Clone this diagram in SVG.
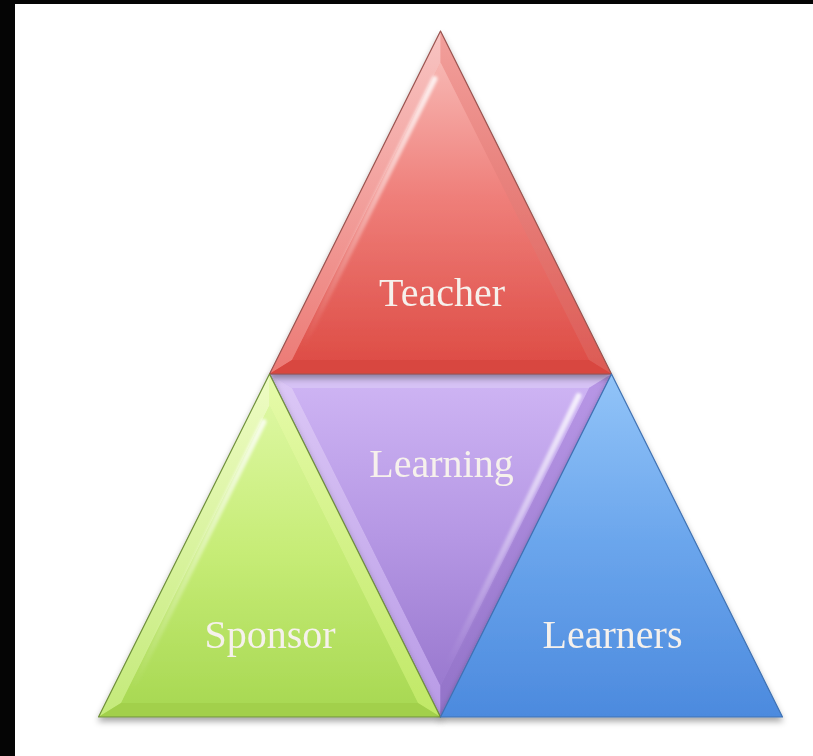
<svg xmlns="http://www.w3.org/2000/svg" width="813" height="756" viewBox="0 0 813 756">
  <style>
    .label { font-family: "Liberation Serif", "Times New Roman", serif; font-size: 40px; fill: #f6f1ec; text-anchor: middle; }
    .edge { fill: none; stroke-width: 1.2; stroke-linejoin: round; }
    .gloss { fill: none; stroke: url(#gloss); stroke-width: 6; stroke-linecap: round; filter: url(#soft); }
  </style>
  <defs>
    <filter id="shadow" x="-10%" y="-10%" width="120%" height="125%">
      <feDropShadow dx="0" dy="4" stdDeviation="3" flood-color="#000" flood-opacity="0.35"/>
    </filter>
    <filter id="soft" x="-20%" y="-20%" width="140%" height="140%">
      <feGaussianBlur stdDeviation="1.5"/>
    </filter>
    <!-- red -->
    <linearGradient id="redInner" x1="0" y1="0" x2="0" y2="1">
      <stop offset="0" stop-color="#f7b6b2"/>
      <stop offset="0.45" stop-color="#ef7f7a"/>
      <stop offset="1" stop-color="#de4e47"/>
    </linearGradient>
    <linearGradient id="redLeft" x1="0" y1="0" x2="0" y2="1">
      <stop offset="0" stop-color="#f8c4c2"/>
      <stop offset="1" stop-color="#ec7a75"/>
    </linearGradient>
    <linearGradient id="redRight" x1="0" y1="0" x2="0" y2="1">
      <stop offset="0" stop-color="#f2a09c"/>
      <stop offset="1" stop-color="#dc5a54"/>
    </linearGradient>
    <!-- green -->
    <linearGradient id="grnInner" x1="0" y1="0" x2="0" y2="1">
      <stop offset="0" stop-color="#dcf7a0"/>
      <stop offset="0.5" stop-color="#c6ec76"/>
      <stop offset="1" stop-color="#a9d954"/>
    </linearGradient>
    <linearGradient id="grnLeft" x1="0" y1="0" x2="0" y2="1">
      <stop offset="0" stop-color="#eefcc4"/>
      <stop offset="1" stop-color="#c4ea7a"/>
    </linearGradient>
    <linearGradient id="grnRight" x1="0" y1="0" x2="0" y2="1">
      <stop offset="0" stop-color="#e6fbaa"/>
      <stop offset="1" stop-color="#c0e866"/>
    </linearGradient>
    <!-- purple -->
    <linearGradient id="purInner" x1="0" y1="0" x2="0" y2="1">
      <stop offset="0" stop-color="#cdb3f3"/>
      <stop offset="0.5" stop-color="#b597e4"/>
      <stop offset="1" stop-color="#9a79cf"/>
    </linearGradient>
    <linearGradient id="purLeft" x1="0" y1="0" x2="0" y2="1">
      <stop offset="0" stop-color="#dcc8f6"/>
      <stop offset="1" stop-color="#b89ae6"/>
    </linearGradient>
    <linearGradient id="purRight" x1="0" y1="0" x2="0" y2="1">
      <stop offset="0" stop-color="#b897e6"/>
      <stop offset="1" stop-color="#9272c8"/>
    </linearGradient>
    <!-- blue -->
    <linearGradient id="bluFill" x1="0" y1="0" x2="0" y2="1">
      <stop offset="0" stop-color="#92c4f8"/>
      <stop offset="0.5" stop-color="#6aa5ec"/>
      <stop offset="1" stop-color="#4c8ade"/>
    </linearGradient>
    <!-- glossy streak -->
    <linearGradient id="gloss" x1="0" y1="0" x2="0" y2="1">
      <stop offset="0" stop-color="#fff" stop-opacity="0.8"/>
      <stop offset="0.6" stop-color="#fff" stop-opacity="0.3"/>
      <stop offset="1" stop-color="#fff" stop-opacity="0"/>
    </linearGradient>
  </defs>

  <rect x="0" y="0" width="813" height="756" fill="#ffffff"/>
  <!-- frame edges -->
  <rect x="0" y="0" width="813" height="4" fill="#050505"/>
  <rect x="0" y="0" width="15" height="756" fill="#050505"/>

  <!-- Learning (inverted, centre) -->
  <g id="learning" transform="translate(440.5,374)" filter="url(#shadow)">
    <polygon points="-171,0 171,0 0,343" fill="url(#purInner)"/>
    <polygon points="-171,0 171,0 148.4,14 -148.4,14" fill="#d6c2f5"/>
    <polygon points="-171,0 -148.4,14 0,311.7 0,343" fill="url(#purLeft)"/>
    <polygon points="171,0 148.4,14 0,311.7 0,343" fill="url(#purRight)"/>
    <polygon points="-148.4,14 148.4,14 0,311.7" fill="url(#purInner)"/>
    <polyline points="138,22 8,290" class="gloss"/>
    <polygon points="-171,0 171,0 0,343" class="edge" stroke="#8e74b8"/>
    <text class="label" x="441.5" y="477" transform="translate(-440.5,-374)">Learning</text>
  </g>

  <!-- Teacher (top) -->
  <g id="teacher" transform="translate(440.5,31)" filter="url(#shadow)">
    <polygon points="0,0 -171,343 171,343" fill="url(#redInner)"/>
    <polygon points="0,0 -171,343 -148.4,329 0,31.4" fill="url(#redLeft)"/>
    <polygon points="0,0 171,343 148.4,329 0,31.4" fill="url(#redRight)"/>
    <polygon points="-171,343 171,343 148.4,329 -148.4,329" fill="#d8463f"/>
    <polygon points="0,31.4 -148.4,329 148.4,329" fill="url(#redInner)"/>
    <polyline points="-6,48 -138,316" class="gloss"/>
    <polygon points="0,0 -171,343 171,343" class="edge" stroke="#9a5450"/>
    <text class="label" x="442" y="306" transform="translate(-440.5,-31)">Teacher</text>
  </g>

  <!-- Sponsor (bottom left) -->
  <g id="sponsor" transform="translate(269.5,374)" filter="url(#shadow)">
    <polygon points="0,0 -171,343 171,343" fill="url(#grnInner)"/>
    <polygon points="0,0 -171,343 -148.4,329 0,31.4" fill="url(#grnLeft)"/>
    <polygon points="0,0 171,343 148.4,329 0,31.4" fill="url(#grnRight)"/>
    <polygon points="-171,343 171,343 148.4,329 -148.4,329" fill="#a2d04c"/>
    <polygon points="0,31.4 -148.4,329 148.4,329" fill="url(#grnInner)"/>
    <polyline points="-6,48 -138,316" class="gloss"/>
    <polygon points="0,0 -171,343 171,343" class="edge" stroke="#6f8f3c"/>
    <text class="label" x="270" y="648" transform="translate(-269.5,-374)">Sponsor</text>
  </g>

  <!-- Learners (bottom right) -->
  <g id="learners" transform="translate(611.5,374)" filter="url(#shadow)">
    <polygon points="0,0 -171,343 171,343" fill="url(#bluFill)"/>
    <polygon points="0,0 -171,343 171,343" class="edge" stroke="#3f72b4"/>
    <text class="label" x="612.5" y="648" transform="translate(-611.5,-374)">Learners</text>
  </g>
</svg>
